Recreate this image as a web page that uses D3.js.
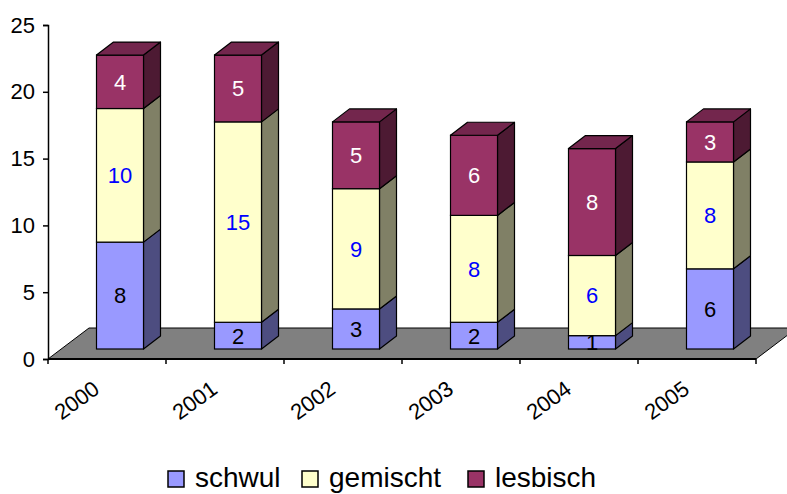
<!DOCTYPE html>
<html>
<head>
<meta charset="utf-8">
<script src="https://cdn.jsdelivr.net/npm/d3@7"></script>
<style>
  body { margin: 0; background: #fff; }
  text { font-family: "Liberation Sans", Arial, sans-serif; }
</style>
</head>
<body>
<div id="chart"></div>
<script>
// Daten
const years = ['2000', '2001', '2002', '2003', '2004', '2005'];
const schwul = [8, 2, 3, 2, 1, 6];
const gemischt = [10, 15, 9, 8, 6, 8];
const lesbisch = [4, 5, 5, 6, 8, 3];
const seriesNames = ['schwul', 'gemischt', 'lesbisch'];
const yTicks = [0, 5, 10, 15, 20, 25];

const fronts = ['#9999ff', '#ffffcc', '#993366'];
const sides = ['#4d4d80', '#808066', '#4d1a33'];
const tops = ['#7a7acc', '#cccca3', '#73264d'];
const labelColors = ['#000000', '#0000ff', '#ffffff'];

const W = 787, H = 494;
const svg = d3.select('#chart').append('svg').attr('width', W).attr('height', H);

const x = d3.scaleBand().domain(years).range([48, 756]);
const y = d3.scaleLinear().domain([0, 25]).range([359, 25]);

// 3D Tiefe
const floorDx = 41, floorDy = -31;   // Boden gesamt
const frontDx = 13, frontDy = -10;   // Vorderseite der Säulen
const depthDx = 17, depthDy = -13;   // Säulentiefe
const barW = 47;

// Boden
const x0 = x.range()[0], x1 = x.range()[1], y0 = y(0);
svg.append('path')
  .attr('d', `M${x0},${y0} L${x0 + floorDx},${y0 + floorDy} L${x1 + floorDx},${y0 + floorDy} L${x1},${y0} Z`)
  .attr('fill', '#808080')
  .attr('stroke', '#000')
  .attr('stroke-width', 1);

// gestapelte Daten
const table = years.map((yr, i) => ({ year: yr, schwul: schwul[i], gemischt: gemischt[i], lesbisch: lesbisch[i] }));
const stack = d3.stack().keys(seriesNames)(table);

years.forEach((yr, i) => {
  const bx = x(yr) + (x.bandwidth() - barW) / 2 + frontDx;
  const g = svg.append('g').attr('transform', `translate(0,${frontDy})`);
  stack.forEach((layer, k) => {
    const d = layer[i];
    const yb = y(d[0]), yt = y(d[1]);
    // Seite
    g.append('path')
      .attr('d', `M${bx + barW},${yb} L${bx + barW + depthDx},${yb + depthDy} L${bx + barW + depthDx},${yt + depthDy} L${bx + barW},${yt} Z`)
      .attr('fill', sides[k]).attr('stroke', '#000').attr('stroke-width', 1.2).attr('stroke-linejoin', 'round');
    // Front
    g.append('rect')
      .attr('x', bx).attr('y', yt)
      .attr('width', barW).attr('height', yb - yt)
      .attr('fill', fronts[k]).attr('stroke', '#000').attr('stroke-width', 1.2);
    // Deckel
    if (k === stack.length - 1) {
      g.append('path')
        .attr('d', `M${bx},${yt} L${bx + depthDx},${yt + depthDy} L${bx + barW + depthDx},${yt + depthDy} L${bx + barW},${yt} Z`)
        .attr('fill', tops[k]).attr('stroke', '#000').attr('stroke-width', 1.2).attr('stroke-linejoin', 'round');
    }
  });
  stack.forEach((layer, k) => {
    const d = layer[i];
    g.append('text')
      .attr('x', bx + barW / 2)
      .attr('y', (y(d[0]) + y(d[1])) / 2)
      .attr('dy', '0.36em')
      .attr('text-anchor', 'middle')
      .style('font-size', '22px')
      .style('fill', labelColors[k])
      .text(d.data[seriesNames[k]]);
  });
});

// Y-Achse
const yAxis = svg.append('g')
  .attr('transform', `translate(${x0},0)`)
  .call(d3.axisLeft(y).tickValues(yTicks).tickSize(5).tickPadding(8));
yAxis.select('.domain').attr('stroke', '#000').attr('stroke-width', 1.5);
yAxis.selectAll('.tick line').attr('stroke', '#000').attr('stroke-width', 1.5);
yAxis.selectAll('.tick text').style('font-size', '22px').style('font-family', '"Liberation Sans", Arial, sans-serif').attr('fill', '#000');

// X-Achse
svg.append('line')
  .attr('x1', x0).attr('x2', x1).attr('y1', y0).attr('y2', y0)
  .attr('stroke', '#000').attr('stroke-width', 2);
const bounds = years.map(yr => x(yr)).concat([x1]);
svg.selectAll('.xtick').data(bounds).enter().append('line')
  .attr('x1', d => d).attr('x2', d => d)
  .attr('y1', y0).attr('y2', y0 + 5)
  .attr('stroke', '#000').attr('stroke-width', 1.5);
svg.selectAll('.xlabel').data(years).enter().append('text')
  .attr('transform', d => `translate(${x(d) + x.bandwidth() / 2 - 6},${y0 + 33}) rotate(-36)`)
  .attr('text-anchor', 'end')
  .style('font-size', '22px')
  .text(d => d);

// Legende
const legendX = [168, 302, 468];
const legend = svg.selectAll('.legend').data(seriesNames).enter().append('g')
  .attr('transform', (d, i) => `translate(${legendX[i]},471)`);
legend.append('rect')
  .attr('width', 16).attr('height', 16)
  .attr('fill', (d, i) => fronts[i])
  .attr('stroke', '#000').attr('stroke-width', 1.5);
legend.append('text')
  .attr('x', 27).attr('y', 16)
  .style('font-size', '28px')
  .text(d => d);
</script>
</body>
</html>
